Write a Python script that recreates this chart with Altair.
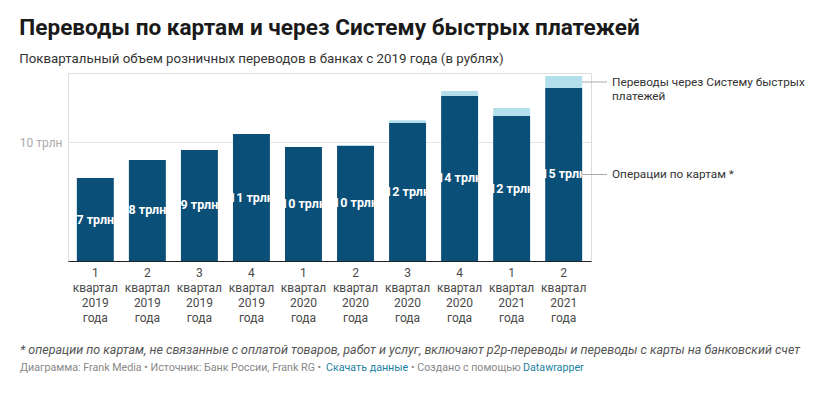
import altair as alt
import pandas as pd

quarters = [
    "1 квартал 2019 года", "2 квартал 2019 года", "3 квартал 2019 года", "4 квартал 2019 года",
    "1 квартал 2020 года", "2 квартал 2020 года", "3 квартал 2020 года", "4 квартал 2020 года",
    "1 квартал 2021 года", "2 квартал 2021 года",
]
cards = [6.97, 8.49, 9.33, 10.67, 9.58, 9.69, 11.60, 13.89, 12.18, 14.54]
sbp = [0.0, 0.0, 0.0, 0.0, 0.0, 0.06, 0.22, 0.40, 0.67, 1.01]
series = ["Операции по картам *", "Переводы через Систему быстрых платежей"]
colors = ["#0a4f78", "#b2dfeb"]

title = "Переводы по картам и через Систему быстрых платежей"
subtitle = "Поквартальный объем розничных переводов в банках с 2019 года (в рублях)"
note = "* операции по картам, не связанные с оплатой товаров, работ и услуг, включают p2p-переводы и переводы с карты на банковский счет"
credit1 = "Диаграмма: Frank Media • Источник: Банк России, Frank RG •"
credit2 = "Скачать данные"
credit3 = "• Создано с помощью"
credit4 = "Datawrapper"

FONT = "Roboto"

rows = []
for q, c, s in zip(quarters, cards, sbp):
    rows.append({"q": q, "series": series[0], "value": c, "ord": 0})
    rows.append({"q": q, "series": series[1], "value": s, "ord": 1})
df = pd.DataFrame(rows)

lab = pd.DataFrame({"q": quarters, "cards": cards})
lab["mid"] = lab["cards"] / 2
lab["label"] = [f"{round(v):.0f} трлн" for v in cards]

ann = pd.DataFrame({
    "mid": [cards[-1] / 2, cards[-1] + sbp[-1] / 2],
    "text": ["Операции по картам *", "Переводы через Систему быстрых\nплатежей"],
})

xscale = alt.Scale(domain=quarters, paddingInner=0.29, paddingOuter=0.17)
yscale = alt.Scale(domain=[0, 15.8], nice=False)

bars = alt.Chart(df).mark_bar().encode(
    x=alt.X("q:N", sort=quarters, scale=xscale, title=None,
            axis=alt.Axis(labelAngle=0, labelExpr="split(datum.label, ' ')",
                          labelFont=FONT, labelFontSize=12, labelColor="#4a4a4a",
                          labelLineHeight=15, labelPadding=6, ticks=False,
                          domainColor="#222", domainWidth=1.2, labelBaseline="top")),
    y=alt.Y("value:Q", stack="zero", scale=yscale, title=None,
            axis=alt.Axis(values=[10], labelExpr="datum.value + ' трлн'", labelFont=FONT,
                          labelFontSize=12, labelColor="#aaaaaa", domain=False, ticks=False,
                          gridColor="#e4e4e4", labelPadding=6)),
    color=alt.Color("series:N", scale=alt.Scale(domain=series, range=colors), legend=None),
    order=alt.Order("ord:Q"),
)

labels = alt.Chart(lab).mark_text(color="white", font=FONT, fontWeight="bold", fontSize=12.5,
                                   baseline="middle").encode(
    x=alt.X("q:N", sort=quarters, scale=xscale),
    y=alt.Y("mid:Q", scale=yscale),
    text="label:N",
)

rules = alt.Chart(ann).mark_rule(color="#aaaaaa", strokeWidth=1).encode(
    x=alt.value(514), x2=alt.value(539), y=alt.Y("mid:Q", scale=yscale))

anntext = alt.Chart(ann).mark_text(align="left", baseline="middle", font=FONT, fontSize=11.8,
                                   color="#333333", lineBreak="\n", lineHeight=14).encode(
    x=alt.value(544), y=alt.Y("mid:Q", scale=yscale), text="text:N")

def txt(t, x, y, **kw):
    return alt.Chart(pd.DataFrame({"t": [t]})).mark_text(
        align="left", baseline="middle", font=FONT, **kw).encode(
        text="t:N", x=alt.value(x), y=alt.value(y))

footer = (
    txt(note, -48, 277, fontSize=12.5, fontStyle="italic", color="#555555")
    + txt(credit1, -48, 295, fontSize=10.7, color="#888888")
    + txt(credit2, 258, 295, fontSize=10.7, color="#1d81a2")
    + txt(credit3, 343, 295, fontSize=10.7, color="#888888")
    + txt(credit4, 455, 295, fontSize=10.7, color="#1d81a2")
)

chart = alt.layer(bars, labels, rules, anntext, footer).properties(
    width=523, height=188,
    autosize=alt.AutoSizeParams(type="none"),
    padding={"left": 60, "top": 65, "right": 224, "bottom": 120},
    title=alt.TitleParams(text=title, subtitle=subtitle, anchor="start", dx=0,
                          font=FONT, fontSize=22.6, fontWeight="bold", color="#1a1a1a",
                          subtitleFont=FONT, subtitleFontSize=13.3, subtitleColor="#333333",
                          subtitlePadding=12, offset=8),
).configure_view(stroke=None).configure(background="white")

chart.save("out.html", embed_options={"renderer": "svg", "actions": False})
